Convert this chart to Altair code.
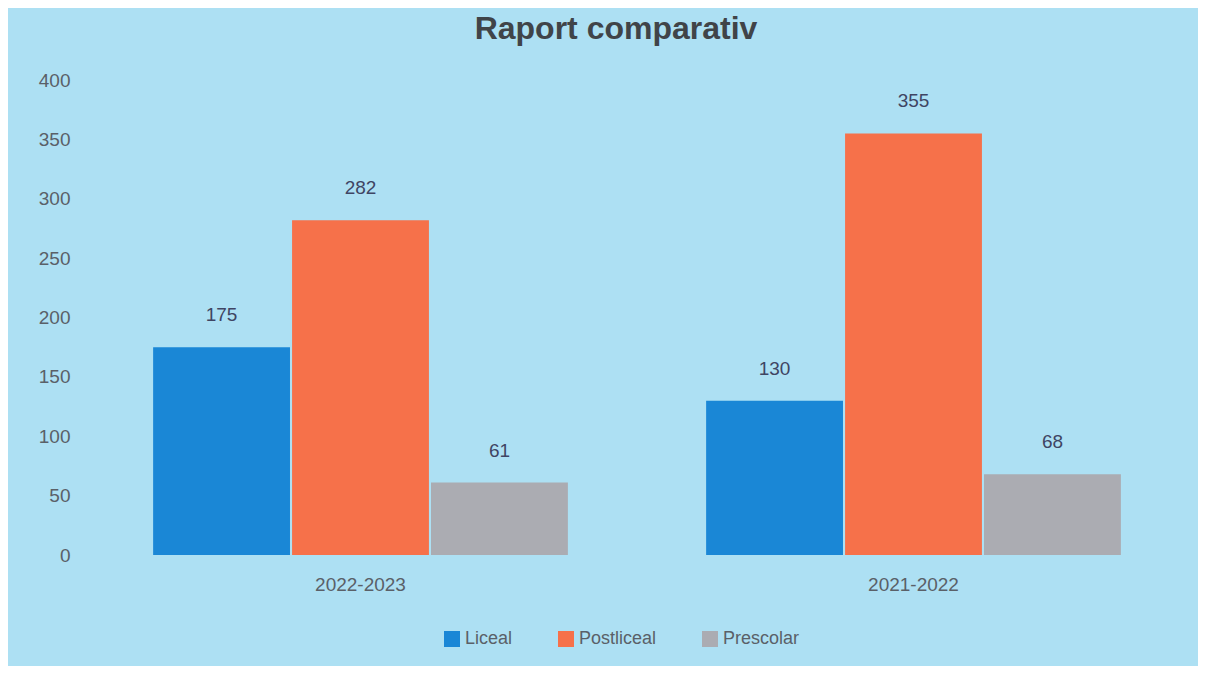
import altair as alt
import pandas as pd

years = ["2022-2023", "2021-2022"]
series = ["Liceal", "Postliceal", "Prescolar"]
liceal = [175, 130]
postliceal = [282, 355]
prescolar = [61, 68]
colors = ["#1a87d6", "#f6714a", "#abacb2"]

rows = []
for i, y in enumerate(years):
    for s, vals in zip(series, [liceal, postliceal, prescolar]):
        rows.append({"An": y, "Categorie": s, "Valoare": vals[i]})
df = pd.DataFrame(rows)

x = alt.X("An:N", sort=years, title=None,
          scale=alt.Scale(paddingInner=0.25, paddingOuter=0.125),
          axis=alt.Axis(labelAngle=0, labelFontSize=19, labelColor="#5a6068",
                        labelFont="Liberation Sans", domain=False, ticks=False,
                        labelPadding=20))
xo = alt.XOffset("Categorie:N", sort=series, scale=alt.Scale(paddingInner=0.015))
y = alt.Y("Valoare:Q", title=None,
          scale=alt.Scale(domain=[0, 400]),
          axis=alt.Axis(values=list(range(0, 401, 50)), labelFontSize=19,
                        labelColor="#5a6068", labelFont="Liberation Sans",
                        domain=False, ticks=False, grid=False, labelPadding=14))

bars = alt.Chart(df).mark_bar().encode(
    x=x, xOffset=xo, y=y,
    color=alt.Color("Categorie:N", sort=series,
                    scale=alt.Scale(domain=series, range=colors),
                    legend=alt.Legend(orient="none", direction="horizontal",
                                      legendX=359, legendY=550, title=None,
                                      symbolType="square",
                                      symbolSize=256, symbolStrokeWidth=0,
                                      labelFontSize=18, labelColor="#5a6068",
                                      labelFont="Liberation Sans", columnPadding=44)),
)

labels = alt.Chart(df).mark_text(dy=-32, fontSize=19, color="#3f4563",
                                 font="Liberation Sans").encode(
    x=alt.X("An:N", sort=years), xOffset=alt.XOffset("Categorie:N", sort=series),
    y="Valoare:Q", text="Valoare:Q",
)

chart = (bars + labels).properties(
    width=1106, height=475,
    autosize=alt.AutoSizeParams(type="none"),
    padding={"left": 76, "top": 72, "right": 8, "bottom": 111},
    background="#ade0f3",
    title=alt.Title("Raport comparativ", fontSize=32, font="Liberation Sans",
                    fontWeight="bold", color="#404448", offset=25, anchor="middle",
                    dx=-21),
).configure_view(stroke=None)

chart.save("out.html", embed_options={"renderer": "svg", "actions": False})
